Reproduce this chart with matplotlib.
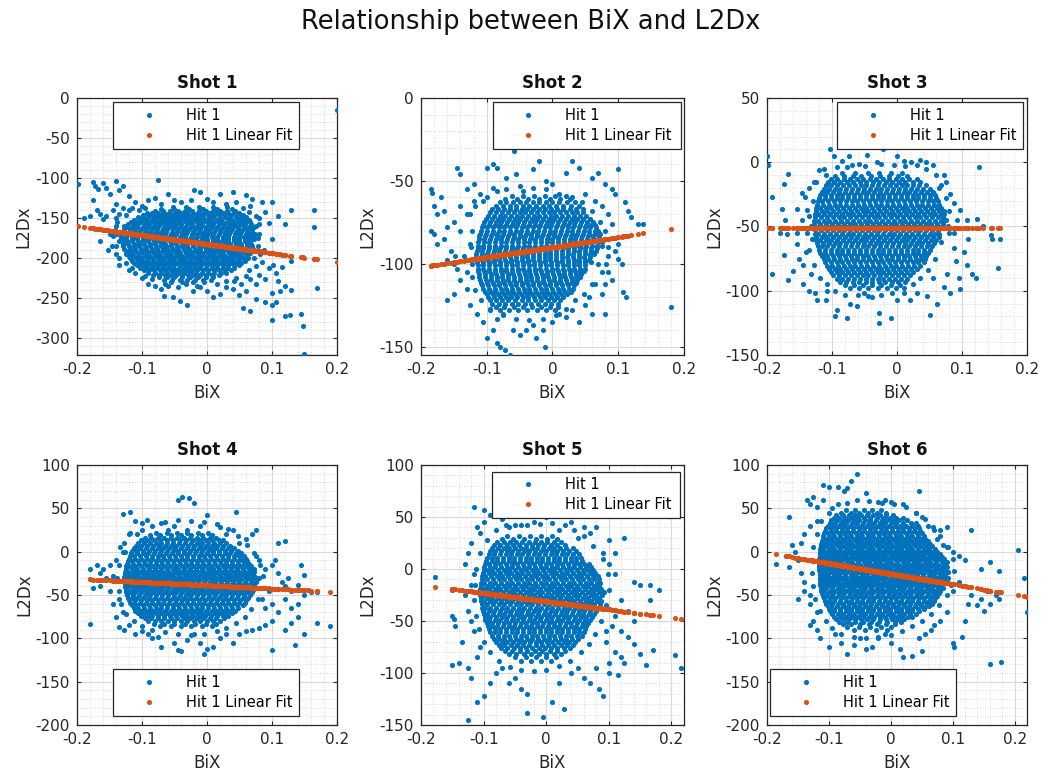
import numpy as np
import matplotlib
matplotlib.use("Agg")
import matplotlib.pyplot as plt
from matplotlib.ticker import AutoMinorLocator

plt.rcParams['font.family'] = 'DejaVu Sans'
plt.rcParams['axes.unicode_minus'] = False

BLUE = '#0072BD'
ORANGE = '#D95319'

# dense part of each cloud: rows of (L2Dx, [BiX...]); sparse part: (BiX, L2Dx) pairs

# ── Shot 1 ────────────────────────────────────────────────────────────────────
shot1_rows = [
    (-136, [-52, -33, -12, 9, 31]),
    (-141, [-80, -67, -57, -45, -34, -23, -13, -2, 9, 20, 31, 43]),
    (-146, [-98, -88, -80, -70, -62, -52, -45, -35, -27, -17, -9, 1, 9, 19, 27, 37, 45, 55]),
    (-152, [-112, -102, -95, -85, -78, -69, -61, -52, -45, -35, -28, -19, -11, -2, 5, 15, 22, 32, 39, 48, 56, 64]),
    (-158, [-121, -113, -106, -96, -89, -80, -73, -63, -56, -47, -40, -30, -23, -14, -7, 3, 10, 19, 26, 36, 43, 52, 59, 67]),
    (-164, [-127, -118, -110, -101, -94, -85, -77, -68, -61, -52, -44, -35, -28, -19, -11, -2, 5, 14, 22, 31, 38, 47, 55, 63, 70]),
    (-170, [-131, -122, -114, -105, -97, -88, -81, -72, -65, -56, -48, -39, -32, -23, -15, -6, 1, 10, 18, 27, 34, 43, 51, 60, 67, 74]),
    (-176, [-133, -124, -115, -107, -99, -90, -83, -74, -66, -57, -50, -41, -33, -25, -17, -8, 0, 9, 16, 25, 33, 41, 49, 58, 65, 72]),
    (-182, [-130, -121, -113, -104, -97, -88, -80, -71, -64, -55, -47, -38, -31, -22, -14, -5, 2, 11, 19, 28, 35, 44, 52, 61, 68]),
    (-188, [-127, -118, -110, -101, -94, -85, -77, -68, -61, -52, -44, -35, -28, -19, -11, -2, 5, 14, 22, 30, 38, 47, 55, 63, 71]),
    (-194, [-123, -115, -106, -98, -90, -81, -74, -65, -57, -48, -41, -32, -24, -15, -8, 1, 9, 18, 25, 34, 42, 50, 58, 66]),
    (-200, [-118, -109, -101, -92, -85, -76, -68, -59, -52, -43, -35, -26, -19, -10, -2, 7, 14, 23, 31, 39, 47, 55, 63]),
    (-206, [-112, -103, -95, -87, -79, -70, -62, -54, -46, -37, -29, -21, -13, -4, 4, 12, 21, 28, 37, 45, 53]),
    (-212, [-103, -94, -85, -77, -69, -60, -52, -43, -36, -27, -19, -10, -2, 7, 15, 24, 33, 42]),
    (-218, [-90, -80, -71, -62, -53, -44, -35, -26, -17, -8, 1, 11, 21, 30]),
    (-224, [-74, -62, -50, -38, -26, -14, -2, 10]),
    (-230, [-56, -38, -22, -5]),
]
shot1_fill = [
    (-139, [-70, -50, -28, -6, 16, 38]),
    (-144, [-92, -84, -75, -66, -58, -49, -40, -31, -22, -14, -5, 4, 14, 24, 33, 41, 50]),
    (-149, [-106, -98, -90, -82, -74, -66, -57, -49, -40, -32, -23, -15, -6, 3, 11, 20, 28, 36, 44, 52, 60]),
    (-155, [-117, -108, -100, -91, -83, -75, -67, -58, -50, -42, -33, -25, -16, -8, 0, 9, 17, 25, 33, 41, 50, 58, 66]),
    (-161, [-124, -116, -108, -99, -91, -83, -75, -66, -58, -50, -42, -34, -25, -17, -9, -1, 7, 16, 24, 32, 40, 48, 57, 65, 72]),
    (-167, [-128, -120, -112, -104, -95, -87, -79, -71, -63, -54, -46, -38, -30, -22, -13, -5, 3, 11, 20, 28, 36, 44, 53, 61, 69]),
    (-173, [-132, -124, -116, -107, -99, -91, -83, -75, -66, -58, -50, -42, -34, -25, -17, -9, -1, 8, 16, 24, 32, 41, 49, 57, 65, 73]),
    (-179, [-131, -123, -115, -106, -98, -90, -82, -74, -66, -57, -49, -41, -33, -24, -16, -8, 0, 9, 17, 25, 33, 42, 50, 58, 66]),
    (-185, [-129, -120, -112, -104, -96, -88, -79, -71, -63, -55, -46, -38, -30, -22, -13, -5, 3, 11, 20, 28, 36, 44, 53, 61, 69]),
    (-191, [-125, -117, -109, -100, -92, -84, -76, -67, -59, -51, -43, -34, -26, -18, -10, -1, 7, 15, 23, 32, 40, 48, 56, 64]),
    (-197, [-120, -112, -104, -95, -87, -79, -71, -62, -54, -46, -38, -29, -21, -13, -5, 4, 12, 20, 28, 37, 45, 53, 61]),
    (-203, [-115, -106, -98, -90, -82, -73, -65, -57, -49, -40, -32, -24, -16, -7, 1, 9, 17, 26, 34, 42, 50, 58]),
    (-209, [-108, -99, -91, -83, -75, -66, -58, -50, -42, -33, -25, -17, -9, 0, 8, 16, 24, 33, 41, 49]),
    (-215, [-97, -89, -81, -73, -64, -56, -48, -40, -31, -23, -15, -6, 2, 11, 19, 28, 37]),
    (-221, [-83, -74, -65, -56, -47, -38, -29, -20, -11, -2, 8, 18]),
    (-227, [-66, -54, -42, -30, -18, -6, 6]),
]
shot1_sparse = [
    (-198, -108), (-190, -150), (-180, -148), (-175, -105), (-172, -110), (-168, -114), (-160, -106),
    (-155, -112), (-150, -120), (-175, -128), (-170, -140), (-165, -145), (-160, -151), (-155, -147),
    (-140, -104), (-135, -115), (-130, -110), (-120, -122), (-140, -133), (-145, -140), (-130, -138),
    (-125, -146), (-115, -137), (-110, -130), (-100, -135), (-90, -128), (-165, -178), (-150, -170),
    (-142, -165), (-75, -102), (-80, -125), (-60, -120), (-50, -128), (-20, -115), (-10, -118), (0, -126),
    (20, -120), (40, -118), (45, -130), (60, -121), (70, -126), (66, -135), (85, -130), (100, -130),
    (90, -142), (80, -150), (95, -156), (110, -148), (120, -158), (130, -140), (165, -140), (165, -161),
    (200, -15), (80, -170), (88, -190), (100, -176), (85, -205), (95, -212), (102, -209), (106, -219),
    (116, -211), (130, -204), (80, -221), (90, -226), (110, -228), (120, -235), (130, -240), (112, -241),
    (100, -244), (170, -237), (76, -232), (66, -226), (60, -241), (50, -246), (40, -238), (30, -236),
    (20, -245), (55, -262), (66, -266), (75, -251), (90, -255), (100, -258), (106, -255), (100, -277),
    (120, -272), (128, -271), (145, -270), (148, -285), (150, -320), (-10, -236), (-22, -241), (-30, -258),
    (-42, -253), (-52, -249), (-66, -247), (-71, -238), (-80, -235), (-90, -232), (-100, -225),
    (-110, -218), (-120, -215), (-135, -208), (-140, -195), (-146, -185), (-152, -190), (-136, -178),
    (-140, -160), (-32, -232), (0, -241), (10, -248), (-60, -235), (42, -228), (52, -232), (75, -160),
    (78, -185), (72, -200), (-125, -195), (-135, -200), (-128, -160), (-138, -170),
]
shot1_edge = [
    (-140, -150), (-135, -145), (-120, -140), (-105, -140), (-95, -138), (-70, -132), (-40, -130),
    (-25, -128), (10, -130), (30, -132), (55, -137), (65, -142), (75, -148), (80, -158), (78, -175),
    (82, -195), (75, -210), (65, -215), (60, -222), (45, -225), (30, -228), (15, -232), (-15, -235),
    (-45, -236), (-65, -232), (-85, -226), (-95, -222), (-115, -212), (-125, -206), (-140, -185),
    (-145, -172), (-138, -155),
]
shot1_fit = (-112.5, -182.5)   # slope, intercept

# ── Shot 2 ────────────────────────────────────────────────────────────────────
shot2_rows = [
    (-59, [-62, -45, -28, -12, 4, 20]),
    (-63, [-80, -70, -60, -50, -40, -30, -20, -10, 0, 10, 22, 34]),
    (-67, [-92, -83, -74, -65, -56, -47, -38, -29, -20, -11, -2, 7, 16, 26, 36, 46]),
    (-71, [-98, -89, -80, -72, -63, -54, -46, -37, -28, -20, -11, -2, 6, 15, 24, 33, 42, 51]),
    (-75, [-104, -95, -86, -78, -69, -60, -52, -43, -34, -26, -17, -8, 0, 9, 18, 26, 35, 44, 53, 61]),
    (-78, [-107, -99, -90, -81, -73, -64, -55, -47, -38, -29, -21, -12, -3, 5, 14, 23, 31, 40, 49, 57, 66]),
    (-82, [-110, -101, -92, -84, -75, -66, -58, -49, -40, -32, -23, -14, -6, 3, 12, 20, 29, 38, 46, 55, 64, 72]),
    (-85, [-112, -104, -95, -86, -78, -69, -60, -52, -43, -34, -26, -17, -8, 0, 9, 18, 26, 35, 44, 52, 61, 70]),
    (-89, [-114, -105, -96, -88, -79, -70, -62, -53, -44, -36, -27, -18, -10, -1, 8, 16, 25, 34, 42, 51, 60, 68, 76]),
    (-92, [-115, -107, -98, -89, -81, -72, -63, -55, -46, -37, -29, -20, -11, -3, 6, 15, 23, 32, 41, 49, 58, 66]),
    (-96, [-116, -108, -99, -90, -82, -73, -64, -56, -47, -38, -30, -21, -12, -4, 5, 14, 22, 31, 40, 48, 57]),
    (-99, [-115, -106, -97, -89, -80, -71, -63, -54, -45, -37, -28, -19, -11, -2, 7, 15, 24, 33, 41, 50, 58]),
    (-103, [-114, -105, -97, -88, -79, -71, -62, -53, -45, -36, -27, -19, -10, -1, 7, 16, 25, 33, 42, 50]),
    (-106, [-112, -103, -94, -86, -77, -68, -60, -51, -42, -34, -25, -16, -8, 1, 10, 18, 27, 36, 44]),
    (-110, [-110, -101, -93, -84, -75, -67, -58, -49, -41, -32, -23, -15, -6, 3, 11, 20, 29, 38]),
    (-113, [-107, -98, -89, -81, -72, -63, -55, -46, -37, -29, -20, -11, -3, 6, 15, 24, 32]),
    (-117, [-103, -94, -86, -77, -68, -60, -51, -42, -34, -25, -16, -8, 1, 10, 19, 28]),
    (-120, [-98, -89, -80, -71, -63, -54, -45, -37, -28, -19, -11, -2, 7, 16]),
    (-124, [-92, -82, -72, -62, -52, -42, -32, -22, -12, -2, 9]),
    (-128, [-80, -66, -52, -38, -24, -10, 4]),
]
shot2_fill = [
    (-61, [-72, -54, -37, -20, -4, 12, 27]),
    (-65, [-86, -75, -65, -55, -45, -35, -25, -15, -5, 5, 16, 28, 40]),
    (-69, [-95, -86, -77, -68, -59, -50, -42, -33, -24, -15, -6, 2, 11, 20, 29, 38, 47]),
    (-73, [-101, -92, -83, -75, -66, -57, -49, -40, -31, -23, -14, -5, 3, 12, 21, 29, 38, 47, 57]),
    (-76.5, [-106, -97, -88, -80, -71, -62, -54, -45, -36, -27, -19, -10, -2, 7, 16, 24, 33, 42, 51, 59, 64]),
    (-80, [-109, -100, -91, -82, -74, -65, -56, -48, -39, -30, -22, -13, -4, 4, 13, 22, 30, 39, 48, 56, 65, 70]),
    (-83.5, [-111, -102, -94, -85, -76, -68, -59, -50, -42, -33, -24, -16, -7, 2, 10, 19, 28, 36, 45, 54, 62, 71]),
    (-87, [-113, -104, -96, -87, -78, -70, -61, -52, -44, -35, -26, -18, -9, 0, 8, 17, 26, 34, 43, 52, 60, 69, 75]),
    (-90.5, [-114, -106, -97, -88, -80, -71, -62, -54, -45, -36, -28, -19, -10, -2, 7, 16, 24, 33, 42, 50, 59, 67]),
    (-94, [-116, -107, -99, -90, -81, -73, -64, -55, -47, -38, -29, -21, -12, -3, 5, 14, 23, 31, 40, 49, 57, 63]),
    (-97.5, [-115, -107, -98, -89, -81, -72, -63, -55, -46, -37, -29, -20, -11, -3, 6, 15, 23, 32, 40, 49, 56]),
    (-101, [-114, -106, -97, -88, -80, -71, -62, -54, -45, -36, -28, -19, -10, -2, 7, 16, 24, 33, 41, 50]),
    (-104.5, [-113, -104, -96, -87, -78, -70, -61, -52, -44, -35, -26, -18, -9, 0, 8, 17, 26, 34, 42, 48]),
    (-108, [-111, -102, -93, -85, -76, -67, -59, -50, -41, -33, -24, -15, -7, 2, 11, 19, 28, 36, 42]),
    (-111.5, [-108, -99, -91, -82, -73, -65, -56, -47, -39, -30, -21, -13, -4, 5, 13, 22, 30, 36]),
    (-115, [-105, -96, -88, -79, -70, -62, -53, -44, -36, -27, -18, -10, -1, 8, 16, 25, 31]),
    (-118.5, [-100, -91, -83, -74, -65, -57, -48, -39, -31, -22, -13, -5, 4, 13, 22]),
    (-122, [-95, -86, -77, -67, -57, -47, -37, -27, -17, -7, 3, 12]),
    (-126, [-86, -73, -59, -45, -31, -17, -3, 8]),
]
shot2_sparse = [
    (-125, 2), (-59, -32), (-145, -42), (-140, -46), (-130, -55), (-120, -52), (-100, -42), (-90, -40),
    (-85, -42), (-70, -48), (-55, -46), (-45, -56), (-30, -43), (-20, -38), (-10, -50), (0, -52),
    (20, -45), (30, -38), (40, -42), (60, -48), (70, -45), (80, -52), (100, -43), (90, -55), (95, -58),
    (110, -63), (115, -68), (120, -72), (130, -76), (138, -76), (100, -88), (95, -92), (100, -97),
    (105, -100), (85, -105), (90, -110), (80, -112), (75, -118), (80, -130), (108, -117), (112, -120),
    (180, -126), (-185, -55), (-183, -57), (-180, -65), (-175, -70), (-170, -60), (-165, -68),
    (-160, -78), (-185, -80), (-180, -82), (-175, -88), (-165, -85), (-150, -75), (-155, -92),
    (-148, -95), (-140, -80), (-130, -70), (-120, -62), (-125, -88), (-150, -100), (-145, -103),
    (-160, -98), (-140, -110), (-130, -105), (-160, -122), (-150, -118), (-130, -115), (-122, -108),
    (-125, -125), (-115, -130), (-105, -135), (-100, -145), (-90, -140), (-85, -148), (-80, -150),
    (-72, -152), (-65, -155), (-60, -140), (-50, -143), (-40, -140), (-30, -137), (-25, -145),
    (-15, -140), (-12, -150), (0, -135), (10, -130), (20, -132), (30, -128), (50, -125), (40, -135),
    (60, -130), (55, -120), (65, -112), (-95, -128), (-85, -133), (-75, -131), (-110, -58), (-100, -60),
    (-90, -54), (50, -58), (65, -62), (75, -65), (85, -70), (90, -76), (70, -100), (85, -95), (80, -85),
    (-135, -95), (-140, -65),
]
shot2_edge = [
    (-125, -70), (-118, -65), (-105, -62), (-85, -56), (-70, -55), (-50, -53), (-30, -54), (-10, -55),
    (10, -58), (30, -60), (45, -63), (60, -68), (72, -75), (80, -80), (85, -90), (82, -100), (75, -105),
    (60, -112), (48, -118), (35, -122), (20, -127), (5, -131), (-15, -133), (-35, -134), (-55, -133),
    (-75, -130), (-95, -127), (-108, -122), (-118, -116), (-122, -100), (-124, -90), (-123, -80),
]
shot2_fit = (60.0, -90.0)

# ── Shot 3 ────────────────────────────────────────────────────────────────────
shot3_rows = [
    (-8, [-85, -65, -45, -28, -10, 8]),
    (-13, [-102, -92, -82, -72, -62, -52, -42, -32, -22, -12, -2, 8, 18, 30]),
    (-18, [-110, -101, -92, -83, -74, -65, -56, -47, -38, -29, -20, -11, -2, 7, 16, 25, 34, 44]),
    (-23, [-116, -107, -98, -89, -80, -71, -62, -53, -44, -35, -26, -17, -8, 1, 10, 19, 28, 37, 46, 55]),
    (-28, [-120, -111, -102, -93, -84, -75, -66, -57, -48, -39, -30, -21, -12, -3, 6, 15, 24, 33, 42, 51, 60]),
    (-33, [-123, -114, -105, -96, -87, -78, -69, -60, -51, -42, -33, -24, -15, -6, 3, 12, 21, 30, 39, 48, 57, 65]),
    (-38, [-125, -116, -107, -98, -89, -80, -71, -62, -53, -44, -35, -26, -17, -8, 1, 10, 19, 28, 37, 46, 55, 64, 72]),
    (-43, [-126, -117, -108, -99, -90, -81, -72, -63, -54, -45, -36, -27, -18, -9, 0, 9, 18, 27, 36, 45, 54, 63, 71]),
    (-48, [-127, -118, -109, -100, -91, -82, -73, -64, -55, -46, -37, -28, -19, -10, -1, 8, 17, 26, 35, 44, 53, 62, 70]),
    (-53, [-126, -117, -108, -99, -90, -81, -72, -63, -54, -45, -36, -27, -18, -9, 0, 9, 18, 27, 36, 45, 54, 63]),
    (-58, [-125, -116, -107, -98, -89, -80, -71, -62, -53, -44, -35, -26, -17, -8, 1, 10, 19, 28, 37, 46, 55, 64]),
    (-63, [-123, -114, -105, -96, -87, -78, -69, -60, -51, -42, -33, -24, -15, -6, 3, 12, 21, 30, 39, 48, 57]),
    (-68, [-120, -111, -102, -93, -84, -75, -66, -57, -48, -39, -30, -21, -12, -3, 6, 15, 24, 33, 42, 51]),
    (-73, [-116, -107, -98, -89, -80, -71, -62, -53, -44, -35, -26, -17, -8, 1, 10, 19, 28, 37, 45]),
    (-78, [-111, -102, -93, -84, -75, -66, -57, -48, -39, -30, -21, -12, -3, 6, 15, 24, 33, 41]),
    (-83, [-105, -96, -87, -78, -69, -60, -51, -42, -33, -24, -15, -6, 3, 12, 21, 30]),
    (-88, [-98, -89, -80, -71, -62, -53, -44, -35, -26, -17, -8, 1, 10, 20]),
    (-93, [-88, -78, -68, -58, -48, -38, -28, -18, -8, 2, 12]),
    (-98, [-72, -58, -44, -30, -16, -2]),
]
shot3_fill = [
    (-10.5, [-95, -82, -68, -55, -40, -26, -12, 2, 16]),
    (-15.5, [-106, -97, -87, -77, -67, -57, -47, -37, -27, -17, -7, 3, 13, 24, 36]),
    (-20.5, [-113, -105, -96, -87, -78, -69, -60, -51, -42, -33, -24, -15, -6, 3, 12, 21, 30, 40, 50]),
    (-25.5, [-118, -111, -102, -93, -84, -75, -66, -57, -48, -39, -30, -21, -12, -3, 6, 15, 24, 33, 42, 51, 58]),
    (-30.5, [-122, -115, -106, -97, -88, -79, -70, -61, -52, -43, -34, -25, -16, -7, 2, 11, 20, 29, 38, 47, 55, 63]),
    (-35.5, [-124, -119, -110, -101, -92, -83, -74, -65, -56, -47, -38, -29, -20, -11, -2, 7, 16, 25, 34, 43, 52, 61, 68]),
    (-40.5, [-126, -121, -112, -103, -94, -85, -76, -67, -58, -49, -40, -31, -22, -13, -4, 5, 14, 23, 32, 41, 50, 59, 68, 72]),
    (-45.5, [-127, -122, -113, -104, -95, -86, -77, -68, -59, -50, -41, -32, -23, -14, -5, 4, 13, 22, 31, 40, 49, 58, 67, 71]),
    (-50.5, [-127, -122, -113, -104, -95, -86, -77, -68, -59, -50, -41, -32, -23, -14, -5, 4, 13, 22, 31, 40, 49, 58, 66]),
    (-55.5, [-126, -121, -112, -103, -94, -85, -76, -67, -58, -49, -40, -31, -22, -13, -4, 5, 14, 23, 32, 41, 50, 59, 64]),
    (-60.5, [-124, -119, -110, -101, -92, -83, -74, -65, -56, -47, -38, -29, -20, -11, -2, 7, 16, 25, 34, 43, 52, 60]),
    (-65.5, [-122, -116, -107, -98, -89, -80, -71, -62, -53, -44, -35, -26, -17, -8, 1, 10, 19, 28, 37, 46, 54]),
    (-70.5, [-118, -111, -102, -93, -84, -75, -66, -57, -48, -39, -30, -21, -12, -3, 6, 15, 24, 33, 41, 48]),
    (-75.5, [-113, -106, -97, -88, -79, -70, -61, -52, -43, -34, -25, -16, -7, 2, 11, 20, 29, 37, 43]),
    (-80.5, [-108, -100, -91, -82, -73, -64, -55, -46, -37, -28, -19, -10, -1, 8, 17, 26, 35]),
    (-85.5, [-101, -93, -84, -75, -66, -57, -48, -39, -30, -21, -12, -3, 6, 15, 25]),
    (-90.5, [-93, -84, -75, -66, -57, -48, -39, -30, -21, -12, -3, 6, 16]),
    (-95.5, [-80, -66, -52, -38, -24, -10, 4]),
]
shot3_sparse = [
    (-200, 5), (-199, -2), (-192, -27), (-167, -9), (-174, -17), (-177, -36), (-172, -45), (-169, -56),
    (-174, -72), (-192, -87), (-167, -92), (-154, -64), (-151, -75), (-144, -80), (-154, -55),
    (-146, -45), (-154, -36), (-141, -27), (-146, -24), (-138, -37), (-133, -50), (-131, -60),
    (-133, -87), (-123, -107), (-126, -102), (-110, -107), (-108, -100), (-95, -120), (-92, -115),
    (-77, -121), (-72, -110), (-62, -112), (-51, -102), (-38, -105), (-28, -117), (-28, -125),
    (-10, -121), (0, -107), (10, -102), (20, -107), (31, -102), (46, -104), (51, -119), (62, -110),
    (72, -97), (82, -102), (97, -99), (56, -90), (77, -87), (90, -77), (87, -67), (103, -70), (115, -87),
    (121, -90), (108, -80), (87, -55), (92, -45), (97, -37), (108, -45), (123, -44), (133, -50),
    (144, -57), (146, -60), (159, -60), (156, -82), (126, -4), (82, -25), (87, -32), (72, -10), (56, -2),
    (44, 0), (21, 0), (10, 1), (-31, 0), (-59, -1), (-77, -4), (-85, 1), (-103, 10), (-97, 5),
    (-113, -5), (-120, -6), (-128, -15), (-74, 5), (-46, 6), (-21, 10), (0, 5), (36, 2), (-140, -70),
    (-160, -85), (-180, -55), (-145, -95), (-135, -100), (75, -45), (80, -55), (95, -90), (110, -60),
    (65, -20), (75, -15),
]
shot3_edge = [
    (-135, -20), (-130, -30), (-135, -42), (-138, -55), (-135, -68), (-128, -80), (-118, -90),
    (-108, -95), (-95, -100), (-80, -103), (-60, -103), (-45, -104), (-25, -103), (-8, -102), (10, -98),
    (25, -95), (35, -90), (48, -84), (58, -75), (68, -62), (78, -50), (80, -38), (75, -28), (68, -18),
    (60, -10), (45, -5), (30, -2), (12, -3), (-5, -2), (-25, -1), (-50, -3), (-70, -2), (-92, -4),
    (-110, -10), (-125, -15),
]
shot3_fit = (0.0, -51.0)

# ── Shot 4 ────────────────────────────────────────────────────────────────────
shot4_rows = [
    (22, [-78, -62, -46, -30, -14, 2]),
    (16, [-96, -86, -76, -66, -56, -46, -36, -26, -16, -6, 4, 14]),
    (10, [-106, -97, -88, -79, -70, -61, -52, -43, -34, -25, -16, -7, 2, 11, 20, 29]),
    (4, [-112, -103, -94, -85, -76, -67, -58, -49, -40, -31, -22, -13, -4, 5, 14, 23, 32, 41]),
    (-2, [-117, -108, -99, -90, -81, -72, -63, -54, -45, -36, -27, -18, -9, 0, 9, 18, 27, 36, 45, 53]),
    (-8, [-120, -111, -102, -93, -84, -75, -66, -57, -48, -39, -30, -21, -12, -3, 6, 15, 24, 33, 42, 51, 60]),
    (-14, [-123, -114, -105, -96, -87, -78, -69, -60, -51, -42, -33, -24, -15, -6, 3, 12, 21, 30, 39, 48, 57, 65]),
    (-20, [-125, -116, -107, -98, -89, -80, -71, -62, -53, -44, -35, -26, -17, -8, 1, 10, 19, 28, 37, 46, 55, 64, 72]),
    (-26, [-126, -117, -108, -99, -90, -81, -72, -63, -54, -45, -36, -27, -18, -9, 0, 9, 18, 27, 36, 45, 54, 63, 71]),
    (-32, [-127, -118, -109, -100, -91, -82, -73, -64, -55, -46, -37, -28, -19, -10, -1, 8, 17, 26, 35, 44, 53, 62, 70, 77]),
    (-38, [-126, -117, -108, -99, -90, -81, -72, -63, -54, -45, -36, -27, -18, -9, 0, 9, 18, 27, 36, 45, 54, 63, 72]),
    (-44, [-125, -116, -107, -98, -89, -80, -71, -62, -53, -44, -35, -26, -17, -8, 1, 10, 19, 28, 37, 46, 55, 64, 71]),
    (-50, [-123, -114, -105, -96, -87, -78, -69, -60, -51, -42, -33, -24, -15, -6, 3, 12, 21, 30, 39, 48, 57, 66]),
    (-56, [-120, -111, -102, -93, -84, -75, -66, -57, -48, -39, -30, -21, -12, -3, 6, 15, 24, 33, 42, 51, 60]),
    (-62, [-116, -107, -98, -89, -80, -71, -62, -53, -44, -35, -26, -17, -8, 1, 10, 19, 28, 37, 46, 55]),
    (-68, [-110, -101, -92, -83, -74, -65, -56, -47, -38, -29, -20, -11, -2, 7, 16, 25, 34, 43]),
    (-74, [-102, -93, -84, -75, -66, -57, -48, -39, -30, -21, -12, -3, 6, 15, 24, 33]),
    (-80, [-90, -80, -70, -60, -50, -40, -30, -20, -10, 0, 10, 20]),
    (-86, [-72, -56, -40, -24, -8, 8]),
]
shot4_fill = [
    (19, [-88, -72, -56, -40, -24, -8, 8]),
    (13, [-101, -92, -82, -72, -62, -52, -42, -32, -22, -12, -2, 8, 18, 25]),
    (7, [-109, -101, -92, -83, -74, -65, -56, -47, -38, -29, -20, -11, -2, 7, 16, 25, 35]),
    (1, [-115, -107, -98, -89, -80, -71, -62, -53, -44, -35, -26, -17, -8, 1, 10, 19, 28, 37, 47]),
    (-5, [-119, -112, -103, -94, -85, -76, -67, -58, -49, -40, -31, -22, -13, -4, 5, 14, 23, 32, 41, 49, 57]),
    (-11, [-122, -115, -106, -97, -88, -79, -70, -61, -52, -43, -34, -25, -16, -7, 2, 11, 20, 29, 38, 47, 55, 62]),
    (-17, [-124, -120, -111, -102, -93, -84, -75, -66, -57, -48, -39, -30, -21, -12, -3, 6, 15, 24, 33, 42, 51, 60, 68]),
    (-23, [-126, -121, -112, -103, -94, -85, -76, -67, -58, -49, -40, -31, -22, -13, -4, 5, 14, 23, 32, 41, 50, 59, 67, 72]),
    (-29, [-127, -122, -113, -104, -95, -86, -77, -68, -59, -50, -41, -32, -23, -14, -5, 4, 13, 22, 31, 40, 49, 58, 66, 74]),
    (-35, [-127, -122, -113, -104, -95, -86, -77, -68, -59, -50, -41, -32, -23, -14, -5, 4, 13, 22, 31, 40, 49, 58, 67, 75]),
    (-41, [-126, -121, -112, -103, -94, -85, -76, -67, -58, -49, -40, -31, -22, -13, -4, 5, 14, 23, 32, 41, 50, 59, 68]),
    (-47, [-124, -119, -110, -101, -92, -83, -74, -65, -56, -47, -38, -29, -20, -11, -2, 7, 16, 25, 34, 43, 52, 61, 69]),
    (-53, [-122, -116, -107, -98, -89, -80, -71, -62, -53, -44, -35, -26, -17, -8, 1, 10, 19, 28, 37, 46, 55, 63]),
    (-59, [-118, -112, -103, -94, -85, -76, -67, -58, -49, -40, -31, -22, -13, -4, 5, 14, 23, 32, 41, 50, 58]),
    (-65, [-113, -106, -97, -88, -79, -70, -61, -52, -43, -34, -25, -16, -7, 2, 11, 20, 29, 38, 47]),
    (-71, [-106, -97, -88, -79, -70, -61, -52, -43, -34, -25, -16, -7, 2, 11, 20, 29, 38]),
    (-77, [-96, -86, -76, -66, -56, -46, -36, -26, -16, -6, 4, 14, 26]),
    (-83, [-82, -66, -50, -34, -18, -2, 14]),
]
shot4_sparse = [
    (-130, 44), (-118, 46), (-45, 60), (-38, 63), (-28, 62), (-20, 56), (45, 46), (-110, 35), (-100, 33),
    (-92, 36), (0, 42), (-108, 20), (-118, 22), (-128, 10), (-134, 5), (-126, 0), (-140, -10),
    (-150, -15), (-160, -20), (-170, -15), (-165, -25), (-155, -30), (-145, -28), (-180, -20),
    (-175, -42), (-165, -40), (-150, -45), (-145, -60), (-135, -55), (-130, -70), (-140, -75),
    (-135, -87), (-128, -90), (-120, -85), (-110, -95), (-100, -92), (-90, -95), (-85, -100), (-75, -98),
    (-70, -110), (-50, -105), (-45, -113), (-40, -115), (-30, -102), (-20, -95), (-10, -105), (-5, -118),
    (0, -112), (10, -110), (20, -100), (30, -95), (40, -105), (50, -95), (60, -92), (70, -90), (80, -88),
    (90, -85), (100, -80), (100, -113), (120, -90), (130, -82), (135, -108), (140, -75), (150, -95),
    (170, -82), (190, -86), (-180, -84), (80, -30), (90, -20), (100, -15), (105, -10), (110, 10),
    (120, 12), (110, -25), (115, -35), (120, -40), (125, -30), (130, -45), (140, -38), (145, -15),
    (150, -27), (150, -50), (140, -60), (130, -65), (120, -55), (100, -60), (90, -65), (85, -55),
    (110, -70), (95, -45), (80, -10), (75, -5), (60, 15), (70, 20), (75, 25), (50, 10), (40, 25), (30, 20),
    (20, 28), (-10, 30), (-30, 25), (-50, 30), (-60, 25), (-70, 33), (155, -44), (170, -46), (160, -47),
]
shot4_edge = [
    (-120, 20), (-130, 0), (-135, -15), (-138, -30), (-136, -45), (-132, -60), (-124, -72), (-112, -80),
    (-100, -86), (-85, -90), (-65, -93), (-45, -95), (-25, -96), (-5, -95), (15, -92), (30, -88),
    (45, -82), (58, -75), (68, -66), (78, -55), (85, -42), (86, -28), (82, -15), (72, -2), (62, 8),
    (48, 18), (32, 26), (15, 32), (-5, 34), (-25, 35), (-45, 36), (-65, 34), (-85, 30), (-100, 25),
]
shot4_fit = (-37.8, -38.8)

# ── Shot 5 ────────────────────────────────────────────────────────────────────
shot5_rows = [
    (32, [-62, -44, -26, -8, 10]),
    (26, [-78, -68, -58, -48, -38, -28, -18, -8, 2, 12, 24]),
    (20, [-86, -77, -68, -59, -50, -41, -32, -23, -14, -5, 4, 13, 22, 32, 42]),
    (14, [-92, -83, -74, -65, -56, -47, -38, -29, -20, -11, -2, 7, 16, 25, 34, 43, 52]),
    (8, [-96, -87, -78, -69, -60, -51, -42, -33, -24, -15, -6, 3, 12, 21, 30, 39, 48, 57]),
    (2, [-99, -90, -81, -72, -63, -54, -45, -36, -27, -18, -9, 0, 9, 18, 27, 36, 45, 54, 63, 72]),
    (-4, [-101, -92, -83, -74, -65, -56, -47, -38, -29, -20, -11, -2, 7, 16, 25, 34, 43, 52, 61, 70, 78]),
    (-10, [-103, -94, -85, -76, -67, -58, -49, -40, -31, -22, -13, -4, 5, 14, 23, 32, 41, 50, 59, 68, 77, 85]),
    (-16, [-104, -95, -86, -77, -68, -59, -50, -41, -32, -23, -14, -5, 4, 13, 22, 31, 40, 49, 58, 67, 76, 85]),
    (-22, [-105, -96, -87, -78, -69, -60, -51, -42, -33, -24, -15, -6, 3, 12, 21, 30, 39, 48, 57, 66, 75, 84, 92]),
    (-28, [-104, -95, -86, -77, -68, -59, -50, -41, -32, -23, -14, -5, 4, 13, 22, 31, 40, 49, 58, 67, 76, 85]),
    (-34, [-103, -94, -85, -76, -67, -58, -49, -40, -31, -22, -13, -4, 5, 14, 23, 32, 41, 50, 59, 68, 77, 86]),
    (-40, [-101, -92, -83, -74, -65, -56, -47, -38, -29, -20, -11, -2, 7, 16, 25, 34, 43, 52, 61, 70, 79]),
    (-46, [-98, -89, -80, -71, -62, -53, -44, -35, -26, -17, -8, 1, 10, 19, 28, 37, 46, 55, 64, 73]),
    (-52, [-95, -86, -77, -68, -59, -50, -41, -32, -23, -14, -5, 4, 13, 22, 31, 40, 49, 58, 67]),
    (-58, [-91, -82, -73, -64, -55, -46, -37, -28, -19, -10, -1, 8, 17, 26, 35, 44, 53, 62]),
    (-64, [-86, -77, -68, -59, -50, -41, -32, -23, -14, -5, 4, 13, 22, 31, 40, 49, 57]),
    (-70, [-80, -71, -62, -53, -44, -35, -26, -17, -8, 1, 10, 19, 28, 37, 46]),
    (-76, [-72, -62, -52, -42, -32, -22, -12, -2, 8, 18, 28, 38]),
    (-82, [-60, -48, -36, -24, -12, 0, 12, 24]),
    (-88, [-40, -24, -8, 8]),
]
shot5_fill = [
    (29, [-70, -53, -35, -17, 1, 18]),
    (23, [-83, -73, -63, -53, -43, -33, -23, -13, -3, 7, 18, 30]),
    (17, [-90, -81, -72, -63, -54, -45, -36, -27, -18, -9, 0, 9, 18, 27, 37, 47]),
    (11, [-94, -87, -78, -69, -60, -51, -42, -33, -24, -15, -6, 3, 12, 21, 30, 39, 48, 55]),
    (5, [-98, -91, -82, -73, -64, -55, -46, -37, -28, -19, -10, -1, 8, 17, 26, 35, 44, 53, 61, 68]),
    (-1, [-100, -95, -86, -77, -68, -59, -50, -41, -32, -23, -14, -5, 4, 13, 22, 31, 40, 49, 58, 67, 75]),
    (-7, [-102, -97, -88, -79, -70, -61, -52, -43, -34, -25, -16, -7, 2, 11, 20, 29, 38, 47, 56, 65, 74, 82]),
    (-13, [-104, -99, -90, -81, -72, -63, -54, -45, -36, -27, -18, -9, 0, 9, 18, 27, 36, 45, 54, 63, 72, 81, 86]),
    (-19, [-105, -100, -91, -82, -73, -64, -55, -46, -37, -28, -19, -10, -1, 8, 17, 26, 35, 44, 53, 62, 71, 80, 88]),
    (-25, [-105, -100, -91, -82, -73, -64, -55, -46, -37, -28, -19, -10, -1, 8, 17, 26, 35, 44, 53, 62, 71, 80, 89]),
    (-31, [-104, -99, -90, -81, -72, -63, -54, -45, -36, -27, -18, -9, 0, 9, 18, 27, 36, 45, 54, 63, 72, 81, 87]),
    (-37, [-102, -98, -89, -80, -71, -62, -53, -44, -35, -26, -17, -8, 1, 10, 19, 28, 37, 46, 55, 64, 73, 82]),
    (-43, [-100, -94, -85, -76, -67, -58, -49, -40, -31, -22, -13, -4, 5, 14, 23, 32, 41, 50, 59, 68, 76]),
    (-49, [-97, -91, -82, -73, -64, -55, -46, -37, -28, -19, -10, -1, 8, 17, 26, 35, 44, 53, 62, 70]),
    (-55, [-93, -87, -78, -69, -60, -51, -42, -33, -24, -15, -6, 3, 12, 21, 30, 39, 48, 57, 64]),
    (-61, [-89, -82, -73, -64, -55, -46, -37, -28, -19, -10, -1, 8, 17, 26, 35, 44, 53, 60]),
    (-67, [-83, -76, -67, -58, -49, -40, -31, -22, -13, -4, 5, 14, 23, 32, 41, 50]),
    (-73, [-76, -67, -57, -47, -37, -27, -17, -7, 3, 13, 23, 33, 42]),
    (-79, [-66, -54, -42, -30, -18, -6, 6, 18, 30]),
    (-85, [-50, -32, -16, 0, 16]),
]
shot5_sparse = [
    (-115, 60), (-100, 57), (-90, 52), (-100, 45), (-110, 40), (-105, 35), (-120, 25), (-125, 15),
    (-130, 5), (-115, -5), (-120, -15), (-130, -25), (-178, -8), (-150, -20), (-150, -45), (-145, -55),
    (-135, -70), (-140, -90), (-150, -92), (-125, -95), (-120, -105), (-110, -85), (-105, -75),
    (-115, -60), (-120, -50), (-125, -40), (-110, -128), (-125, -145), (-100, -122), (-90, -110),
    (-80, -100), (-70, -95), (-60, -110), (-50, -105), (-40, -115), (-30, -120), (-30, -138), (-5, -142),
    (10, -128), (28, -135), (20, -110), (40, -100), (50, -95), (60, -105), (70, -110), (90, -122),
    (85, -115), (80, -95), (100, -90), (110, -80), (120, -85), (115, -102), (125, -90), (140, -72),
    (150, -82), (160, -92), (170, -78), (205, -83), (215, -95), (180, -20), (165, -30), (165, -15),
    (150, -15), (140, -12), (130, -40), (120, -30), (125, 30), (110, 15), (100, 28), (90, 15), (80, 40),
    (70, 35), (60, 40), (50, 30), (40, 45), (20, 38), (0, 50), (-20, 45), (-40, 42), (-60, 40), (-70, 48),
    (100, 5), (110, -5), (105, -55), (120, -60), (130, -65), (140, -50), (110, -45), (95, -70),
    (100, -100), (95, -60), (-148, -48),
]
shot5_edge = [
    (-80, 38), (-95, 28), (-105, 15), (-112, 0), (-114, -15), (-115, -30), (-112, -45), (-108, -58),
    (-100, -70), (-90, -80), (-75, -88), (-58, -94), (-40, -97), (-20, -98), (0, -97), (20, -93),
    (38, -88), (55, -80), (68, -72), (78, -62), (88, -50), (95, -35), (100, -20), (98, -5), (90, 10),
    (75, 22), (60, 32), (45, 38), (30, 42), (10, 44), (-10, 43), (-30, 42), (-50, 42), (-65, 42),
]
shot5_fit = (-79.0, -31.0)

# ── Shot 6 ────────────────────────────────────────────────────────────────────
shot6_rows = [
    (48, [-72, -58, -44, -30, -16]),
    (42, [-88, -78, -68, -58, -48, -38, -28, -18, -8, 4]),
    (36, [-96, -87, -78, -69, -60, -51, -42, -33, -24, -15, -6, 3, 14, 26]),
    (30, [-102, -93, -84, -75, -66, -57, -48, -39, -30, -21, -12, -3, 6, 15, 24, 34, 44]),
    (24, [-106, -97, -88, -79, -70, -61, -52, -43, -34, -25, -16, -7, 2, 11, 20, 29, 38, 47]),
    (18, [-109, -100, -91, -82, -73, -64, -55, -46, -37, -28, -19, -10, -1, 8, 17, 26, 35, 44, 53]),
    (12, [-111, -102, -93, -84, -75, -66, -57, -48, -39, -30, -21, -12, -3, 6, 15, 24, 33, 42, 51, 60]),
    (6, [-113, -104, -95, -86, -77, -68, -59, -50, -41, -32, -23, -14, -5, 4, 13, 22, 31, 40, 49, 58, 67]),
    (0, [-114, -105, -96, -87, -78, -69, -60, -51, -42, -33, -24, -15, -6, 3, 12, 21, 30, 39, 48, 57, 66, 75]),
    (-6, [-115, -106, -97, -88, -79, -70, -61, -52, -43, -34, -25, -16, -7, 2, 11, 20, 29, 38, 47, 56, 65, 74, 83]),
    (-12, [-116, -107, -98, -89, -80, -71, -62, -53, -44, -35, -26, -17, -8, 1, 10, 19, 28, 37, 46, 55, 64, 73, 82, 90]),
    (-18, [-116, -107, -98, -89, -80, -71, -62, -53, -44, -35, -26, -17, -8, 1, 10, 19, 28, 37, 46, 55, 64, 73, 82, 91]),
    (-24, [-115, -106, -97, -88, -79, -70, -61, -52, -43, -34, -25, -16, -7, 2, 11, 20, 29, 38, 47, 56, 65, 74, 83, 92]),
    (-30, [-115, -106, -97, -88, -79, -70, -61, -52, -43, -34, -25, -16, -7, 2, 11, 20, 29, 38, 47, 56, 65, 74, 83, 92]),
    (-36, [-114, -105, -96, -87, -78, -69, -60, -51, -42, -33, -24, -15, -6, 3, 12, 21, 30, 39, 48, 57, 66, 75, 84]),
    (-42, [-113, -104, -95, -86, -77, -68, -59, -50, -41, -32, -23, -14, -5, 4, 13, 22, 31, 40, 49, 58, 67, 76, 85]),
    (-48, [-111, -102, -93, -84, -75, -66, -57, -48, -39, -30, -21, -12, -3, 6, 15, 24, 33, 42, 51, 60, 69, 78]),
    (-54, [-108, -99, -90, -81, -72, -63, -54, -45, -36, -27, -18, -9, 0, 9, 18, 27, 36, 45, 54, 63, 72]),
    (-60, [-104, -95, -86, -77, -68, -59, -50, -41, -32, -23, -14, -5, 4, 13, 22, 31, 40, 49, 58, 66]),
    (-66, [-100, -91, -82, -73, -64, -55, -46, -37, -28, -19, -10, -1, 8, 17, 26, 35, 44, 53]),
    (-72, [-95, -86, -77, -68, -59, -50, -41, -32, -23, -14, -5, 4, 13, 22, 31, 40]),
    (-78, [-88, -78, -68, -58, -48, -38, -28, -18, -8, 2, 12, 22]),
    (-84, [-78, -64, -50, -36, -22, -8, 6]),
    (-90, [-60, -42, -24, -6]),
]
shot6_fill = [
    (45, [-80, -65, -51, -37, -23, -8]),
    (39, [-92, -83, -73, -63, -53, -43, -33, -23, -13, -2, 9, 20]),
    (33, [-99, -90, -81, -72, -63, -54, -45, -36, -27, -18, -9, 0, 9, 20, 32, 40]),
    (27, [-104, -97, -88, -79, -70, -61, -52, -43, -34, -25, -16, -7, 2, 11, 20, 29, 39, 46]),
    (21, [-108, -102, -93, -84, -75, -66, -57, -48, -39, -30, -21, -12, -3, 6, 15, 24, 33, 42, 50]),
    (15, [-110, -105, -96, -87, -78, -69, -60, -51, -42, -33, -24, -15, -6, 3, 12, 21, 30, 39, 48, 56]),
    (9, [-112, -107, -98, -89, -80, -71, -62, -53, -44, -35, -26, -17, -8, 1, 10, 19, 28, 37, 46, 55, 63]),
    (3, [-114, -109, -100, -91, -82, -73, -64, -55, -46, -37, -28, -19, -10, -1, 8, 17, 26, 35, 44, 53, 62, 71]),
    (-3, [-115, -110, -101, -92, -83, -74, -65, -56, -47, -38, -29, -20, -11, -2, 7, 16, 25, 34, 43, 52, 61, 70, 79]),
    (-9, [-116, -111, -102, -93, -84, -75, -66, -57, -48, -39, -30, -21, -12, -3, 6, 15, 24, 33, 42, 51, 60, 69, 78, 86]),
    (-15, [-116, -112, -103, -94, -85, -76, -67, -58, -49, -40, -31, -22, -13, -4, 5, 14, 23, 32, 41, 50, 59, 68, 77, 86]),
    (-21, [-116, -111, -102, -93, -84, -75, -66, -57, -48, -39, -30, -21, -12, -3, 6, 15, 24, 33, 42, 51, 60, 69, 78, 87]),
    (-27, [-115, -110, -101, -92, -83, -74, -65, -56, -47, -38, -29, -20, -11, -2, 7, 16, 25, 34, 43, 52, 61, 70, 79, 88]),
    (-33, [-115, -110, -101, -92, -83, -74, -65, -56, -47, -38, -29, -20, -11, -2, 7, 16, 25, 34, 43, 52, 61, 70, 79, 88]),
    (-39, [-114, -109, -100, -91, -82, -73, -64, -55, -46, -37, -28, -19, -10, -1, 8, 17, 26, 35, 44, 53, 62, 71, 80]),
    (-45, [-112, -108, -99, -90, -81, -72, -63, -54, -45, -36, -27, -18, -9, 0, 9, 18, 27, 36, 45, 54, 63, 72, 80]),
    (-51, [-110, -104, -95, -86, -77, -68, -59, -50, -41, -32, -23, -14, -5, 4, 13, 22, 31, 40, 49, 58, 67, 74]),
    (-57, [-106, -100, -91, -82, -73, -64, -55, -46, -37, -28, -19, -10, -1, 8, 17, 26, 35, 44, 53, 62, 69]),
    (-63, [-102, -96, -87, -78, -69, -60, -51, -42, -33, -24, -15, -6, 3, 12, 21, 30, 39, 48, 57, 62]),
    (-69, [-98, -91, -82, -73, -64, -55, -46, -37, -28, -19, -10, -1, 8, 17, 26, 35, 45]),
    (-75, [-92, -82, -72, -63, -54, -45, -36, -27, -18, -9, 0, 9, 18, 27, 35]),
    (-81, [-83, -71, -58, -45, -32, -19, -6, 7, 17]),
    (-87, [-70, -52, -34, -16, 0]),
]
shot6_sparse = [
    (-55, 90), (-65, 82), (-110, 77), (-100, 75), (-85, 75), (-75, 70), (-70, 74), (-125, 63), (-135, 60),
    (-130, 55), (-120, 52), (-110, 60), (-95, 50), (-40, 68), (45, 70), (20, 55), (0, 57), (-20, 57),
    (-10, 60), (40, 45), (50, 40), (60, 30), (70, 25), (80, 25), (90, 28), (130, 25), (75, 15), (85, 8),
    (90, 5), (100, 0), (110, -5), (120, -10), (145, -20), (175, -22), (160, -12), (205, 2), (215, -30),
    (220, -70), (-165, 40), (-160, 8), (-155, 0), (-170, -5), (-185, -14), (-165, -18), (-150, -10),
    (-145, -25), (-140, -35), (-150, -55), (-140, -45), (-130, -50), (-130, -60), (-125, -80),
    (-130, -85), (-120, -90), (-120, -70), (-115, -100), (-100, -110), (-90, -95), (-80, -105),
    (-70, -118), (-60, -108), (-50, -100), (-40, -112), (-30, -110), (-20, -100), (-10, -95), (0, -105),
    (15, -112), (20, -122), (35, -120), (50, -115), (45, -100), (55, -95), (65, -90), (70, -85),
    (80, -80), (90, -70), (100, -105), (102, -110), (115, -98), (120, -80), (125, -60), (130, -50),
    (140, -62), (145, -55), (150, -68), (155, -45), (160, -60), (170, -50), (175, -55), (160, -130),
    (178, -127), (110, -35), (120, -40), (100, -45), (-140, 20), (-130, 30), (-120, 35), (-145, 10),
]
shot6_edge = [
    (-85, 55), (-100, 45), (-112, 35), (-120, 20), (-125, 5), (-127, -10), (-128, -25), (-126, -40),
    (-122, -55), (-115, -68), (-105, -80), (-95, -88), (-80, -95), (-60, -98), (-40, -100), (-20, -99),
    (0, -96), (18, -92), (35, -86), (50, -80), (65, -72), (78, -62), (90, -50), (98, -38), (102, -22),
    (100, -8), (92, 5), (80, 18), (68, 28), (55, 38), (40, 45), (25, 52), (5, 55), (-15, 56), (-35, 58),
    (-55, 60), (-70, 56),
]
shot6_fit = (-121.0, -25.5)

titles = ['Shot 1', 'Shot 2', 'Shot 3', 'Shot 4', 'Shot 5', 'Shot 6']
x_ticks = [-0.2, -0.1, 0, 0.1, 0.2]
x_tick_labels = ['-0.2', '-0.1', '0', '0.1', '0.2']

panels = [
    dict(rows=shot1_rows + shot1_fill, sparse=shot1_sparse + shot1_edge, fit=shot1_fit,
         xlim=(-0.2, 0.2), ylim=(-321, 0), yticks=[-300, -250, -200, -150, -100, -50, 0],
         leg=('upper left', 0.138, 0.985)),
    dict(rows=shot2_rows + shot2_fill, sparse=shot2_sparse + shot2_edge, fit=shot2_fit,
         xlim=(-0.2, 0.2), ylim=(-155, 0), yticks=[-150, -100, -50, 0],
         leg=('upper left', 0.272, 0.985)),
    dict(rows=shot3_rows + shot3_fill, sparse=shot3_sparse + shot3_edge, fit=shot3_fit,
         xlim=(-0.2, 0.2), ylim=(-150, 50), yticks=[-150, -100, -50, 0, 50],
         leg=('upper left', 0.27, 0.985)),
    dict(rows=shot4_rows + shot4_fill, sparse=shot4_sparse + shot4_edge, fit=shot4_fit,
         xlim=(-0.2, 0.2), ylim=(-200, 100), yticks=[-200, -150, -100, -50, 0, 50, 100],
         leg=('lower left', 0.138, 0.035)),
    dict(rows=shot5_rows + shot5_fill, sparse=shot5_sparse + shot5_edge, fit=shot5_fit,
         xlim=(-0.2, 0.22), ylim=(-150, 100), yticks=[-150, -100, -50, 0, 50, 100],
         leg=('upper left', 0.27, 0.975)),
    dict(rows=shot6_rows + shot6_fill, sparse=shot6_sparse + shot6_edge, fit=shot6_fit,
         xlim=(-0.2, 0.22), ylim=(-200, 100), yticks=[-200, -150, -100, -50, 0, 50, 100],
         leg=('lower left', 0.012, 0.035)),
]

# axes rectangles in figure fractions
lefts = [0.0739, 0.4040, 0.7361]
widths = [0.2495, 0.2524, 0.2495]
bottoms = [0.5431, 0.0669]
heights = [0.3308, 0.3346]

fig = plt.figure(figsize=(10.42, 7.77), dpi=100, facecolor='white')
fig.text(0.509, 0.972, 'Relationship between BiX and L2Dx', ha='center', va='center',
         fontsize=18.5, color='#111111')

for k, p in enumerate(panels):
    r, c = divmod(k, 3)
    ax = fig.add_axes([lefts[c], bottoms[r], widths[c], heights[r]])

    xs, ys = [], []
    for yv, row in p['rows']:
        xs += [v / 1000 for v in row]
        ys += [yv] * len(row)
    for xv, yv in p['sparse']:
        xs.append(xv / 1000)
        ys.append(yv)
    xs = np.array(xs)
    ys = np.array(ys, dtype=float)

    slope, icpt = p['fit']
    ax.plot(xs, ys, 'o', ms=3.7, mew=0, color=BLUE, label='Hit 1', zorder=3)
    ax.plot(xs, slope * xs + icpt, 'o', ms=3.7, mew=0, color=ORANGE,
            label='Hit 1 Linear Fit', zorder=4)

    ax.set_xlim(*p['xlim'])
    ax.set_ylim(*p['ylim'])
    ax.set_xticks(x_ticks)
    ax.set_xticklabels(x_tick_labels)
    ax.set_yticks(p['yticks'])
    ax.set_yticklabels([str(v) for v in p['yticks']])
    ax.xaxis.set_minor_locator(AutoMinorLocator(5))
    ax.yaxis.set_minor_locator(AutoMinorLocator(5))
    ax.grid(which='major', color='#d9d9d9', lw=0.8)
    ax.grid(which='minor', color='#cfcfcf', lw=0.6, ls=(0, (1, 2)))
    ax.set_axisbelow(True)
    ax.tick_params(which='major', direction='in', length=3, width=0.8, top=True, right=True,
                   labelsize=11, colors='#262626', pad=5)
    ax.tick_params(which='minor', length=0)
    for s in ax.spines.values():
        s.set_color('#262626')
        s.set_linewidth(0.9)

    ax.set_title(titles[k], fontsize=12, fontweight='bold', pad=7, color='#111111')
    ax.set_xlabel('BiX', fontsize=12, color='#262626', labelpad=5)
    ax.set_ylabel('L2Dx', fontsize=12, color='#262626', labelpad=2)

    loc, lx, ly = p['leg']
    leg = ax.legend(loc=loc, bbox_to_anchor=(lx, ly, 0.716, 0), mode='expand', borderaxespad=0,
                    fontsize=10.5, handlelength=4.1, handletextpad=0.5, labelspacing=0.35,
                    borderpad=0.4, fancybox=False, framealpha=1, edgecolor='#262626')
    leg.get_frame().set_linewidth(0.9)
    leg.set_zorder(10)

plt.savefig('out.png', dpi=100, facecolor='white')
